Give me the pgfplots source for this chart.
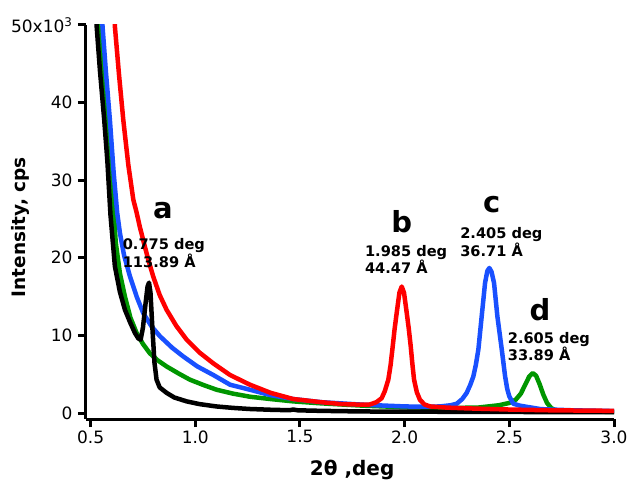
\documentclass[border=0pt]{standalone}
\usepackage{fontspec}
\setmainfont{DejaVu Sans}
\usepackage{pgfplots}
\pgfplotsset{compat=1.18}

\definecolor{igred}{RGB}{255,0,0}
\definecolor{igblue}{RGB}{25,80,255}
\definecolor{iggreen}{RGB}{0,150,0}

\begin{document}
\begin{tikzpicture}
\begin{axis}[
  scale only axis,
  width=528pt, height=394pt,
  xmin=0.478, xmax=3.0,
  ymin=-0.77, ymax=50,
  axis lines=left,
  axis line style={line width=3pt, -},
  tick align=outside,
  major tick length=8pt,
  tick style={line width=3pt, black},
  minor tick num=0,
  xtick={0.5,1.0,1.5,2.0,2.5,3.0},
  xticklabels={0.5,1.0,1.5,2.0,2.5,3.0},
  ytick={0,10,20,30,40,50},
  yticklabels={0,10,20,30,40,50x10\textsuperscript{3}},
  yticklabel style={xshift=-2pt},
  tick label style={font=\fontsize{17}{20}\selectfont},
  xlabel={2θ ,deg},
  ylabel={Intensity, cps},
  xlabel style={font=\bfseries\fontsize{20}{23}\selectfont,
                at={(axis description cs:0.504,-0.129)}, anchor=center},
  ylabel style={font=\bfseries\fontsize{18.5}{22}\selectfont,
                at={(axis description cs:-0.125,0.487)}, anchor=center},
  every axis plot/.append style={line width=4.5pt, line join=round, line cap=round},
]

% sample d
\addplot[iggreen] coordinates {
 (0.533,58) (0.548,49.8) (0.563,44) (0.581,37.8) (0.600,30) (0.611,25.8)
 (0.620,22) (0.640,18) (0.664,15.0) (0.690,12.3) (0.720,10.3) (0.750,8.9)
 (0.783,7.7) (0.820,6.8) (0.863,6.0) (0.920,5.1) (0.974,4.3) (1.040,3.6)
 (1.102,3.0) (1.180,2.5) (1.261,2.1) (1.360,1.8) (1.468,1.5) (1.600,1.25)
 (1.800,0.95) (2.000,0.75) (2.200,0.65) (2.350,0.7) (2.450,1.0) (2.500,1.3)
 (2.530,1.7) (2.555,2.5) (2.575,3.6) (2.595,4.7) (2.612,5.15) (2.628,4.8)
 (2.645,3.7) (2.662,2.4) (2.680,1.3) (2.700,0.65) (2.720,0.35) (2.780,0.22)
 (3.000,0.15)
};

% sample c
\addplot[igblue] coordinates {
 (0.541,58) (0.557,49.8) (0.573,44) (0.592,37.8) (0.610,31) (0.627,25.8)
 (0.640,23.2) (0.660,20.3) (0.688,17.6) (0.720,15.0) (0.751,12.9) (0.790,11.2)
 (0.831,9.9) (0.890,8.4) (0.942,7.3) (1.010,6.0) (1.086,4.9) (1.166,3.65)
 (1.261,3.0) (1.360,2.3) (1.468,1.8) (1.600,1.4) (1.802,1.07) (2.000,0.85)
 (2.100,0.8) (2.169,0.85) (2.220,1.0) (2.249,1.2) (2.275,1.8) (2.296,2.58)
 (2.313,3.6) (2.328,4.7) (2.340,6.2) (2.352,8.16) (2.368,12.45) (2.384,16.75)
 (2.395,18.3) (2.4045,18.69) (2.415,18.2) (2.427,16.75) (2.443,12.45)
 (2.464,8.16) (2.480,4.7) (2.490,3.1) (2.500,2.14) (2.519,1.2) (2.550,0.95)
 (2.583,0.8) (2.650,0.5) (2.800,0.35) (3.000,0.25)
};

% sample a
\addplot[black] coordinates {
 (0.512,58) (0.529,49.8) (0.545,44) (0.565,37.8) (0.580,32.5) (0.595,25.5)
 (0.616,18.9) (0.640,15.6) (0.664,13.3) (0.690,11.6) (0.712,10.3) (0.728,9.6)
 (0.739,9.45) (0.750,11.0) (0.762,14.0) (0.772,16.3) (0.779,16.8) (0.786,15.5)
 (0.795,11.0) (0.805,6.5) (0.815,4.3) (0.830,3.3) (0.863,2.6) (0.900,2.0)
 (0.959,1.5) (1.020,1.15) (1.100,0.85) (1.180,0.66) (1.260,0.52) (1.360,0.42)
 (1.450,0.36) (1.468,0.45) (1.490,0.35) (1.600,0.28) (1.800,0.2) (2.000,0.18)
 (2.300,0.15) (2.600,0.13) (3.000,0.1)
};

% sample b
\addplot[igred] coordinates {
 (0.600,58) (0.616,49.8) (0.636,43.5) (0.656,37.8) (0.680,32) (0.704,27.5)
 (0.720,25.8) (0.735,24) (0.751,22.3) (0.775,19.8) (0.799,17.6) (0.830,15.2)
 (0.863,13.3) (0.910,11.2) (0.959,9.45) (1.020,7.8) (1.086,6.4) (1.166,4.9)
 (1.261,3.65) (1.360,2.6) (1.468,1.8) (1.600,1.4) (1.700,1.15) (1.802,1.07)
 (1.834,1.1) (1.865,1.4) (1.890,1.9) (1.905,2.8) (1.922,4.3) (1.933,6.2)
 (1.943,8.6) (1.952,10.8) (1.962,12.9) (1.975,15.5) (1.986,16.3) (1.997,15.5)
 (2.010,12.9) (2.020,10.8) (2.029,8.6) (2.037,6.3) (2.045,4.3) (2.058,2.7)
 (2.073,1.7) (2.095,1.1) (2.121,0.85) (2.200,0.7) (2.300,0.6) (2.500,0.45)
 (2.700,0.35) (3.000,0.28)
};

% peak labels
\begin{scope}[every node/.style={font=\bfseries\fontsize{29}{31}\selectfont, inner sep=0pt}]
  \node at (axis cs:0.845,26.1) {a};
  \node at (axis cs:1.986,24.65) {b};
  \node at (axis cs:2.416,26.8) {c};
  \node at (axis cs:2.647,13.3) {d};
\end{scope}
\begin{scope}[every node/.style={font=\bfseries\fontsize{14.6}{17.5}\selectfont, inner sep=0pt, anchor=west, align=left}]
  \node at (axis cs:0.653,20.6) {0.775 deg\\113.89 Å};
  \node at (axis cs:1.810,19.8) {1.985 deg\\44.47 Å};
  \node at (axis cs:2.265,22.05) {2.405 deg\\36.71 Å};
  \node at (axis cs:2.492,8.56) {2.605 deg\\33.89 Å};
\end{scope}
\end{axis}
\pgfresetboundingbox
\useasboundingbox (-86pt,-62pt) rectangle (542pt,419pt);
\end{tikzpicture}
\end{document}
